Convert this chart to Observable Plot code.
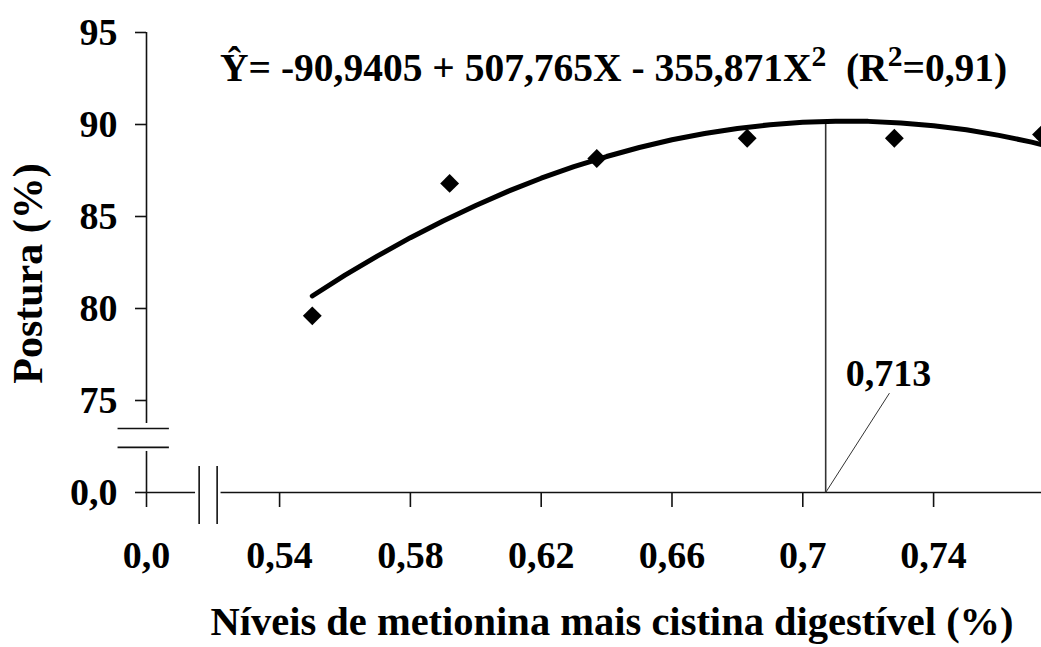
<!DOCTYPE html>
<html>
<head>
<meta charset="utf-8">
<script src="https://cdn.jsdelivr.net/npm/d3@7"></script>
<script src="https://cdn.jsdelivr.net/npm/@observablehq/plot@0.6"></script>
<style>
  html, body { margin: 0; padding: 0; background: #fff; }
  #wrap { position: relative; width: 1041px; height: 647px; overflow: hidden; background: #fff; }
  #eq { position: absolute; left: 220px; top: 49px; font-family: "Liberation Serif", "Times New Roman", serif;
        font-weight: bold; font-size: 39.5px; color: #000; white-space: nowrap; line-height: 1; }
  #eq sup { font-size: 0.75em; position: relative; top: -0.5em; vertical-align: baseline; line-height: 1; }
</style>
</head>
<body>
<div id="wrap">
  <div id="chart"></div>
  <div id="eq">Ŷ= -90,9405 + 507,765X - 355,871X<sup>2</sup>&nbsp;&nbsp;(R<sup>2</sup>=0,91)</div>
</div>
<script>
// ---- data ----
const xTickValues = [0.4993, 0.54, 0.58, 0.62, 0.66, 0.70, 0.74];
const xTickLabels = ["0,0", "0,54", "0,58", "0,62", "0,66", "0,7", "0,74"];
const yTickValues = [70, 75, 80, 85, 90, 95];
const yTickLabels = ["0,0", "75", "80", "85", "90", "95"];

const obsX = [0.550, 0.592, 0.637, 0.683, 0.728, 0.773];
const obsY = [79.6, 86.8, 88.15, 89.25, 89.25, 89.45];

const fitX = [0.55, 0.56, 0.57, 0.58, 0.59, 0.60, 0.61, 0.62, 0.63, 0.64, 0.65, 0.66, 0.67, 0.68, 0.69, 0.70, 0.71, 0.72, 0.73, 0.74, 0.75, 0.76, 0.77, 0.78];
const fitY = [80.68, 81.81, 82.86, 83.85, 84.76, 85.60, 86.38, 87.08, 87.71, 88.26, 88.75, 89.17, 89.51, 89.78, 89.99, 90.12, 90.18, 90.17, 90.08, 89.93, 89.71, 89.41, 89.04, 88.60];

const peakX = 0.707;
const peakTopY = 90.16;
const peakLabel = "0,713";
const peakLabelX = 0.7262;
const peakLabelY = 76.45;
const leaderEnd = [0.7265, 75.4];

const xTitle = "Níveis de metionina mais cistina digestível (%)";
const yTitle = "Postura (%)";

// axis break geometry (data units)
const xDomain = [0.4993, 0.773];
const yDomain = [70, 95];
const xAxisSegments = [[0.4993, 0.5143], [0.5221, 0.79]];
const xBreakMarks = [0.5154, 0.5209];
const xBreakSpan = [68.26, 71.41];
const yAxisSegments = [[70, 72.23], [73.75, 95]];
const yBreakMarks = [72.45, 73.48];
const yBreakSpan = [0.4906, 0.5063];

const obs = obsX.map((x, i) => ({x, y: obsY[i]}));
const fit = fitX.map((x, i) => ({x, y: fitY[i]}));
const xLab = new Map(xTickValues.map((v, i) => [v, xTickLabels[i]]));
const yLab = new Map(yTickValues.map((v, i) => [v, yTickLabels[i]]));
const ink = "#111";

const chart = Plot.plot({
  width: 1041,
  height: 647,
  marginLeft: 146,
  marginRight: 0,
  marginTop: 32,
  marginBottom: 155,
  x: {domain: xDomain},
  y: {domain: yDomain},
  style: {fontFamily: "'Liberation Serif', 'Times New Roman', serif", fontWeight: "bold", color: "#000", background: "#fff"},
  marks: [
    // x axis line (broken)
    Plot.ruleY(xAxisSegments, {y: () => yDomain[0], x1: d => d[0], x2: d => d[1], stroke: ink, strokeWidth: 1.6}),
    Plot.ruleX(xBreakMarks, {y1: xBreakSpan[0], y2: xBreakSpan[1], stroke: ink, strokeWidth: 1.6}),
    // y axis line (broken)
    Plot.ruleX(yAxisSegments, {x: () => xDomain[0], y1: d => d[0], y2: d => d[1], stroke: ink, strokeWidth: 1.6}),
    Plot.ruleY(yBreakMarks, {x1: yBreakSpan[0], x2: yBreakSpan[1], stroke: ink, strokeWidth: 1.6}),
    Plot.axisX({ticks: xTickValues, tickFormat: d => xLab.get(d), tickSize: 15, tickPadding: 34, fontSize: 38, fontWeight: "bold", label: null, stroke: ink, strokeWidth: 1.6}),
    Plot.axisY({ticks: yTickValues, tickFormat: d => yLab.get(d), tickSize: 11, tickPadding: 18, fontSize: 38, fontWeight: "bold", label: null, stroke: ink, strokeWidth: 1.6}),
    // vertical line at the optimum and its label leader
    Plot.ruleX([peakX], {y1: yDomain[0], y2: peakTopY, stroke: "#333", strokeWidth: 1.6}),
    Plot.link([[peakX, yDomain[0], leaderEnd[0], leaderEnd[1]]], {x1: d => d[0], y1: d => d[1], x2: d => d[2], y2: d => d[3], stroke: "#333", strokeWidth: 1}),
    Plot.text([peakLabel], {x: peakLabelX, y: peakLabelY, fontSize: 38, fontWeight: "bold", fill: "#000"}),
    // fitted curve and observations
    Plot.line(fit, {x: "x", y: "y", stroke: "#000", strokeWidth: 5}),
    Plot.dot(obs, {x: "x", y: "y", symbol: "diamond2", r: 8.5, fill: "#000", stroke: "none"}),
    // axis titles
    Plot.text([xTitle], {frameAnchor: "bottom", dx: 18, dy: 142, fontSize: 40.5, fontWeight: "bold", fill: "#000"}),
    Plot.text([yTitle], {frameAnchor: "left", textAnchor: "middle", dx: -118, dy: 11, rotate: -90, fontSize: 42, fontWeight: "bold", fill: "#000"})
  ]
});
document.getElementById("chart").appendChild(chart);
</script>
</body>
</html>
